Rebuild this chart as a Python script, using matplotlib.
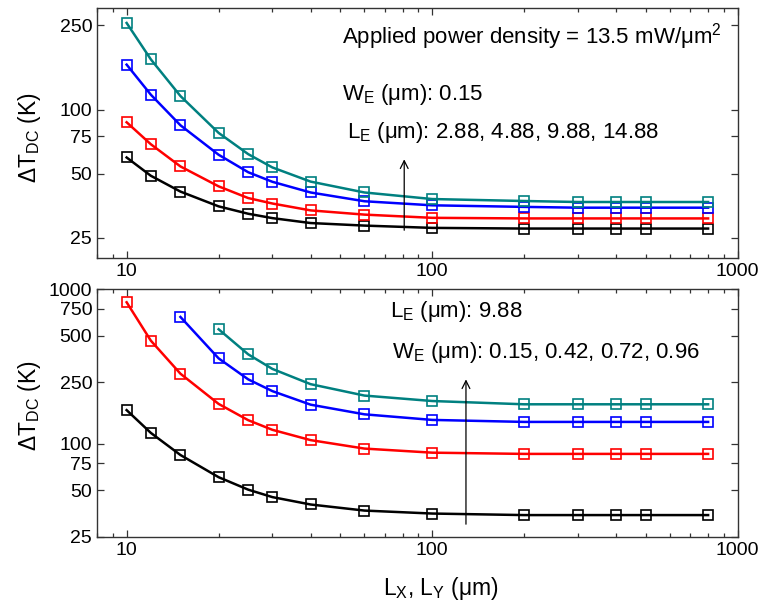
import matplotlib
matplotlib.use('Agg')
import matplotlib.pyplot as plt
from matplotlib.ticker import FixedLocator, NullFormatter, LogLocator

plt.rcParams['font.family'] = ['Liberation Sans', 'DejaVu Sans']
plt.rcParams['mathtext.fontset'] = 'custom'
plt.rcParams['mathtext.rm'] = 'Liberation Sans'
plt.rcParams['mathtext.it'] = 'Liberation Sans'
plt.rcParams['mathtext.default'] = 'regular'

# L_X = L_Y sweep (um)
lx = [10, 12, 15, 20, 25, 30, 40, 60, 100, 200, 300, 400, 500, 800]

# top panel: W_E = 0.15 um, L_E = 2.88 / 4.88 / 9.88 / 14.88 um
top_le288 = [59.6, 48.9, 41.2, 35.1, 32.4, 30.9, 29.3, 28.5, 27.8, 27.6, 27.6, 27.6, 27.6, 27.6]
top_le488 = [87.3, 68.8, 54.1, 43.6, 38.4, 36.2, 33.6, 32.1, 31.0, 30.8, 30.8, 30.8, 30.8, 30.8]
top_le988 = [163, 117.7, 84.5, 61.4, 50.8, 45.8, 40.8, 37.1, 35.5, 34.9, 34.6, 34.6, 34.6, 34.6]
top_le1488 = [256, 172.6, 116, 77.8, 61.8, 53.5, 45.9, 40.8, 38.0, 37.2, 36.8, 36.8, 36.8, 36.8]

# bottom panel: L_E = 9.88 um, W_E = 0.15 / 0.42 / 0.72 / 0.96 um
bot_we015 = [165, 117.5, 84.5, 60.7, 50.4, 45.1, 40.4, 36.9, 35.3, 34.5, 34.5, 34.5, 34.5, 34.5]
bot_we042 = [824, 465, 284, 181, 142, 123, 105.5, 93, 87.5, 85.9, 85.9, 85.9, 85.9, 85.9]
bot_we072 = [662, 357, 261, 219, 179, 155, 142.6, 138.4, 138.4, 138.4, 138.4, 138.4]
bot_we096 = [551, 379, 305, 243, 205, 189, 180, 180, 180, 180, 180]

colors = ['black', '#ff0000', '#0000ff', '#008080']

fig = plt.figure(figsize=(7.61, 6.08), dpi=100)
ax1 = fig.add_axes([0.1275, 0.5752, 0.8419, 0.4111])
ax2 = fig.add_axes([0.1275, 0.1173, 0.8419, 0.4069])

top_series = [(lx, top_le288), (lx, top_le488), (lx, top_le988), (lx, top_le1488)]
bot_series = [(lx, bot_we015), (lx, bot_we042), (lx[2:], bot_we072), (lx[3:], bot_we096)]

for ax, series in [(ax1, top_series), (ax2, bot_series)]:
    for (xs, ys), c in zip(series, colors):
        ax.plot(xs, ys, '-', color=c, lw=1.8, marker='s', ms=7, mfc='none',
                mec=c, mew=1.2)
    ax.set_xscale('log')
    ax.set_yscale('log')
    ax.set_xlim(8, 1000)
    ax.xaxis.set_major_locator(FixedLocator([10, 100, 1000]))
    ax.xaxis.set_major_formatter(plt.FuncFormatter(lambda v, p: '%d' % v))
    ax.xaxis.set_minor_locator(LogLocator(base=10, subs=range(2, 10)))
    ax.xaxis.set_minor_formatter(NullFormatter())
    ax.yaxis.set_minor_locator(FixedLocator([]))
    ax.tick_params(which='both', direction='in', top=True, right=True,
                   labelsize=14, width=0.9, color='#333333')
    ax.tick_params(which='major', length=5)
    ax.tick_params(which='minor', length=3)
    for sp in ax.spines.values():
        sp.set_linewidth(1.0)
        sp.set_color('#333333')
    ax.set_ylabel(r'$\Delta$T$_{DC}$ (K)', fontsize=16.5)

ax1.yaxis.set_label_coords(-0.085, 0.483)
ax2.yaxis.set_label_coords(-0.085, 0.53)

ax1.set_ylim(20, 300)
ax1.yaxis.set_major_locator(FixedLocator([25, 50, 75, 100, 250]))
ax1.yaxis.set_major_formatter(plt.FuncFormatter(lambda v, p: '%d' % v))

ax2.set_ylim(25, 1000)
ax2.yaxis.set_major_locator(FixedLocator([25, 50, 75, 100, 250, 500, 750, 1000]))
ax2.yaxis.set_major_formatter(plt.FuncFormatter(lambda v, p: '%d' % v))

# annotations, top panel
ax1.text(0.382, 0.86, r'Applied power density = 13.5 mW/μm$^2$', transform=ax1.transAxes,
         fontsize=16, va='baseline')
ax1.text(0.382, 0.633, r'W$_E$ (μm): 0.15', transform=ax1.transAxes,
         fontsize=16, va='baseline')
ax1.text(0.390, 0.48, r'L$_E$ (μm): 2.88, 4.88, 9.88, 14.88', transform=ax1.transAxes,
         fontsize=16, va='baseline')
ax1.annotate('', xy=(81, 60.2), xytext=(81, 26.3),
             arrowprops=dict(arrowstyle='->', color='black', lw=0.9,
                             mutation_scale=14))

# annotations, bottom panel
ax2.text(0.457, 0.889, r'L$_E$ (μm): 9.88', transform=ax2.transAxes,
         fontsize=16, va='baseline')
ax2.text(0.461, 0.721, r'W$_E$ (μm): 0.15, 0.42, 0.72, 0.96', transform=ax2.transAxes,
         fontsize=16, va='baseline')
ax2.annotate('', xy=(129, 272), xytext=(129, 28.9),
             arrowprops=dict(arrowstyle='->', color='black', lw=0.9,
                             mutation_scale=14))

fig.text(383 / 761, 1 - 595 / 608, r'L$_X$, L$_Y$ (μm)', fontsize=16.5, va='baseline')

fig.savefig('out.png', dpi=100)
